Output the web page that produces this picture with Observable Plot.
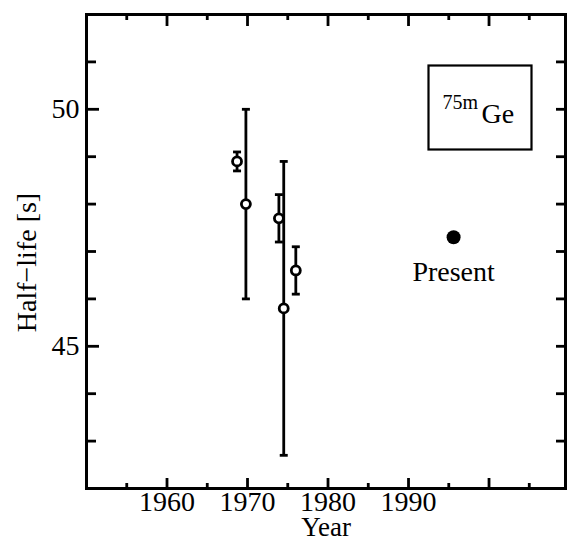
<!DOCTYPE html>
<html>
<head>
<meta charset="utf-8">
<script src="https://cdn.jsdelivr.net/npm/d3@7"></script>
<script src="https://cdn.jsdelivr.net/npm/@observablehq/plot@0.6"></script>
<style>
  html, body { margin: 0; padding: 0; background: white; }
  svg text { font-family: "Liberation Serif", serif; }
</style>
</head>
<body>
<div id="chart"></div>
<script>
// Earlier measurements (open circles)
const years = [1968.7, 1969.8, 1973.9, 1974.5, 1976.0];
const halfLives = [48.9, 48.0, 47.7, 45.8, 46.6];
const errors = [0.2, 2.0, 0.5, 3.1, 0.5];

// Present measurement (filled circle)
const presentYears = [1995.6];
const presentHalfLives = [47.3];
const presentLabel = ["Present"];

// Axes
const xDomain = [1950, 2009.5];
const yDomain = [42, 52];
const xMajorTicks = [1960, 1970, 1980, 1990, 2000];
const xMinorTicks = [1955, 1965, 1975, 1985, 1995, 2005];
const xTickLabels = [1960, 1970, 1980, 1990];
const yMajorTicks = [45, 50];
const yMinorTicks = [43, 44, 46, 47, 48, 49, 51];
const yAllTicks = [43, 44, 45, 46, 47, 48, 49, 50, 51];
const yTickLabels = [45, 50];
const xTitle = "Year";
const yTitle = "Half\u2212life [s]";
const nuclideMass = "75m";
const nuclideSymbol = "Ge";

const measurements = years.map((year, i) => ({
  year, value: halfLives[i], lo: halfLives[i] - errors[i], hi: halfLives[i] + errors[i]
}));
const present = presentYears.map((year, i) => ({year, value: presentHalfLives[i], label: presentLabel[i]}));

// horizontal cap symbol for error bars
const capSymbol = {
  draw(context, size) {
    const r = Math.sqrt(size / Math.PI);
    context.moveTo(-r, 0);
    context.lineTo(r, 0);
  }
};

const FONT = "Liberation Serif";
const SW = 2.8;
const tickAxis = (opts) => ({tickFormat: () => "", label: null, strokeWidth: SW, ...opts});

const chart = Plot.plot({
  width: 567,
  height: 542,
  marginLeft: 86,
  marginRight: 2,
  marginTop: 14,
  marginBottom: 54,
  style: {fontFamily: FONT, fontSize: "28px", background: "white", color: "black"},
  x: {domain: xDomain, axis: null},
  y: {domain: yDomain, axis: null},
  marks: [
    // inward ticks: bottom
    Plot.axisX(tickAxis({anchor: "bottom", ticks: xMajorTicks, tickSize: 10, dy: -10})),
    Plot.axisX(tickAxis({anchor: "bottom", ticks: xMinorTicks, tickSize: 5, dy: -5})),
    // top
    Plot.axisX(tickAxis({anchor: "top", ticks: xMajorTicks, tickSize: 11, dy: 11})),
    Plot.axisX(tickAxis({anchor: "top", ticks: xMinorTicks, tickSize: 5, dy: 5})),
    // left
    Plot.axisY(tickAxis({anchor: "left", ticks: yMajorTicks, tickSize: 13, dx: 13})),
    Plot.axisY(tickAxis({anchor: "left", ticks: yMinorTicks, tickSize: 10, dx: 10})),
    // right
    Plot.axisY(tickAxis({anchor: "right", ticks: yAllTicks, tickSize: 10, dx: -10})),
    // tick labels
    Plot.axisX({anchor: "bottom", ticks: xTickLabels, tickSize: 0, tickPadding: 3, tickFormat: d => String(d), label: null, fontSize: 28, fontFamily: FONT}),
    Plot.axisY({anchor: "left", ticks: yTickLabels, tickSize: 0, tickPadding: 7, tickFormat: d => String(d), label: null, fontSize: 28, fontFamily: FONT}),
    // axis titles
    Plot.text([xTitle], {frameAnchor: "bottom", textAnchor: "middle", lineAnchor: "bottom", dy: 47, fontSize: 27, fontFamily: FONT}),
    Plot.text([yTitle], {frameAnchor: "left", textAnchor: "middle", lineAnchor: "middle", rotate: -90, dx: -59, dy: 11, fontSize: 28, fontFamily: FONT}),
    // frame
    Plot.frame({stroke: "black", strokeWidth: 3}),
    // nuclide label box
    Plot.frame({stroke: "black", strokeWidth: 2.2, insetLeft: 342, insetRight: 34, insetTop: 51, insetBottom: 339}),
    Plot.text([nuclideMass], {frameAnchor: "top-left", textAnchor: "start", lineAnchor: "bottom", dx: 356, dy: 94.5, fontSize: 20, fontFamily: FONT}),
    Plot.text([nuclideSymbol], {frameAnchor: "top-left", textAnchor: "start", lineAnchor: "bottom", dx: 395, dy: 108, fontSize: 28, fontFamily: FONT}),
    // error bars
    Plot.ruleX(measurements, {x: "year", y1: "lo", y2: "hi", stroke: "black", strokeWidth: SW}),
    Plot.dot(measurements, {x: "year", y: "lo", symbol: capSymbol, r: 4, stroke: "black", strokeWidth: SW, fill: "none"}),
    Plot.dot(measurements, {x: "year", y: "hi", symbol: capSymbol, r: 4, stroke: "black", strokeWidth: SW, fill: "none"}),
    Plot.dot(measurements, {x: "year", y: "value", r: 4.5, fill: "white", stroke: "black", strokeWidth: SW}),
    // present
    Plot.dot(present, {x: "year", y: "value", r: 7, fill: "black", stroke: "none"}),
    Plot.text(present, {x: "year", y: "value", text: "label", textAnchor: "middle", lineAnchor: "bottom", dy: 44, fontSize: 28, fontFamily: FONT})
  ]
});

document.getElementById("chart").appendChild(chart);
</script>
</body>
</html>
